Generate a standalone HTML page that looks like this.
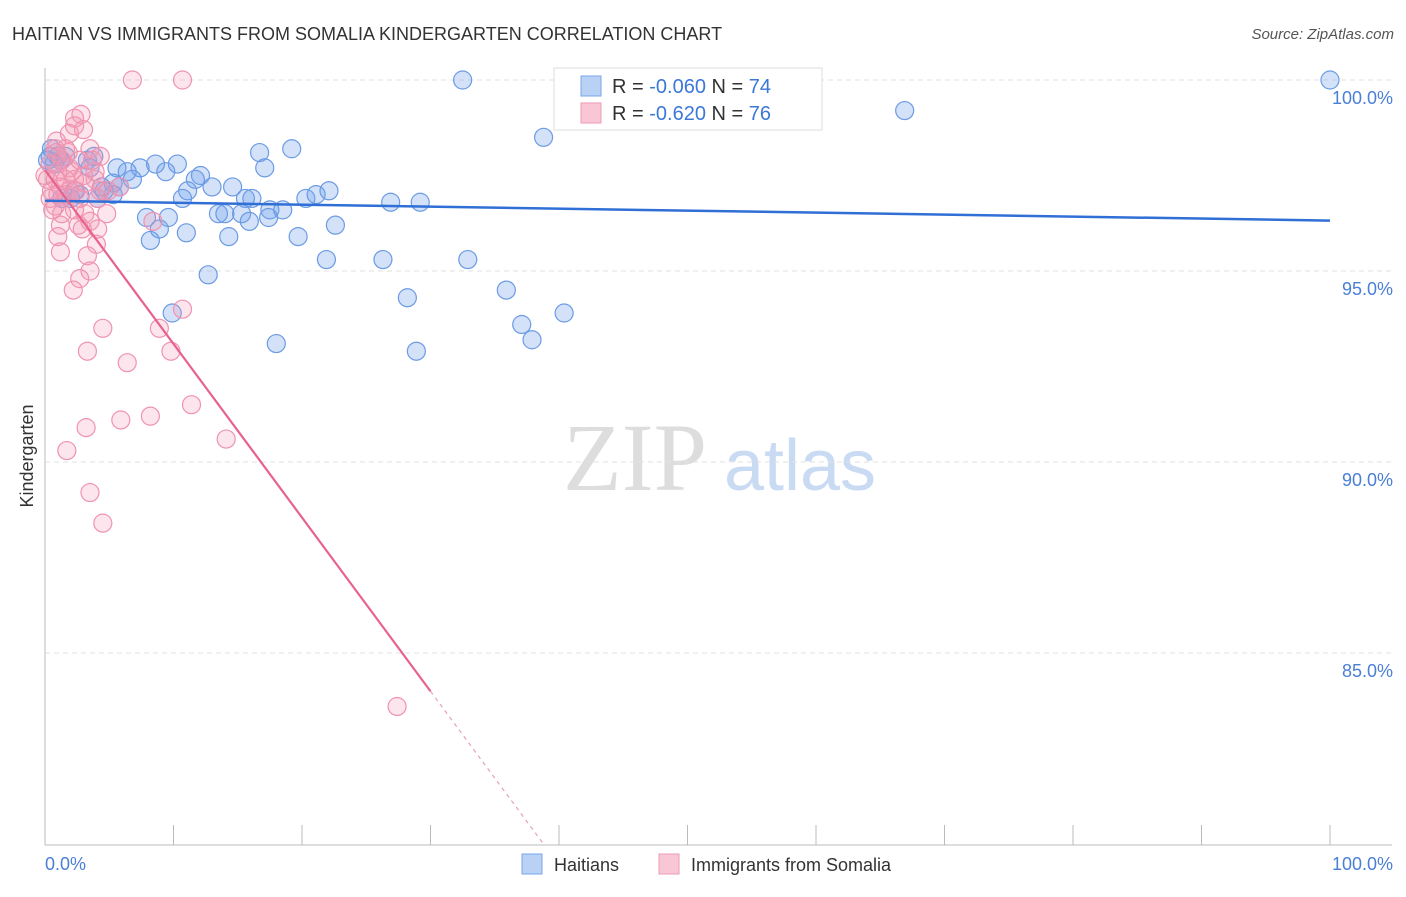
<!DOCTYPE html>
<html><head><meta charset="utf-8"><style>
body{margin:0;background:#fff;font-family:"Liberation Sans",sans-serif}
</style></head><body>
<svg width="1406" height="892" xmlns="http://www.w3.org/2000/svg">
<text x="12" y="40" font-size="18" fill="#333">HAITIAN VS IMMIGRANTS FROM SOMALIA KINDERGARTEN CORRELATION CHART</text>
<text x="1394" y="39" font-size="15" fill="#555" text-anchor="end" font-style="italic">Source: ZipAtlas.com</text>
<g>
<text x="635" y="490" font-size="96" font-family="Liberation Serif,serif" fill="#ddd" text-anchor="middle">ZIP</text>
<text x="800" y="490" font-size="72" fill="#c9daf3" text-anchor="middle">atlas</text>
</g>
<g id="grid"></g>
<g id="axes"></g>
<g id="points"></g>
<g id="trends"></g>
<text transform="translate(33,456) rotate(-90)" font-size="18" fill="#333" text-anchor="middle">Kindergarten</text>
<text x="45" y="870" font-size="18" fill="#4a7fd6">0.0%</text>
<text x="1393" y="870" font-size="18" fill="#4a7fd6" text-anchor="end">100.0%</text>
<g>
<rect x="554" y="68" width="268" height="62" fill="#fff" stroke="#ddd"/>
<rect x="581" y="76" width="20" height="20" fill="#b9d1f5" stroke="#7aa5e8"/>
<rect x="581" y="103" width="20" height="20" fill="#f9c6d5" stroke="#ee9ab3"/>
<text x="612" y="93" font-size="20" fill="#333">R = <tspan fill="#3b78d8">-0.060</tspan>   N = <tspan fill="#3b78d8">74</tspan></text>
<text x="612" y="120" font-size="20" fill="#333">R = <tspan fill="#3b78d8">-0.620</tspan>   N = <tspan fill="#3b78d8">76</tspan></text>
</g>
<g>
<rect x="522" y="854" width="20" height="20" fill="#b9d1f5" stroke="#7aa5e8"/>
<text x="554" y="871" font-size="18" fill="#333">Haitians</text>
<rect x="659" y="854" width="20" height="20" fill="#f9c6d5" stroke="#ee9ab3"/>
<text x="691" y="871" font-size="18" fill="#333">Immigrants from Somalia</text>
</g>
</svg>
<script>
const yTicks=[100,95,90,85];
const yTickLabels=["100.0%","95.0%","90.0%","85.0%"];
const xTicks=[0,10,20,30,40,50,60,70,80,90,100];
const blueX=[32.5,100,66.9,38.8,19.2,16.7,17.1,8.6,10.3,7.4,5.6,6.4,9.4,6.8,12.1,11.7,13.0,11.1,10.7,14.6,15.6,16.1,20.3,21.1,22.1,26.9,29.2,5.3,5.8,4.6,4.1,2.7,2.3,1.3,7.9,9.6,13.5,14.0,15.3,15.9,17.5,17.4,18.5,22.6,19.7,11.0,14.3,8.9,8.2,12.7,21.9,26.3,32.9,28.2,35.9,37.1,37.9,40.4,9.9,18.0,28.9,0.5,0.4,1.0,1.2,1.6,3.3,3.8,3.5,0.7,0.2,2.0,5.3,4.4];
const blueY=[100,100,99.2,98.5,98.2,98.1,97.7,97.8,97.8,97.7,97.7,97.6,97.6,97.4,97.5,97.4,97.2,97.1,96.9,97.2,96.9,96.9,96.9,97.0,97.1,96.8,96.8,97.3,97.2,97.1,96.9,97.0,97.1,96.9,96.4,96.4,96.5,96.5,96.5,96.3,96.6,96.4,96.6,96.2,95.9,96.0,95.9,96.1,95.8,94.9,95.3,95.3,95.3,94.3,94.5,93.6,93.2,93.9,93.9,93.1,92.9,98.2,98.0,98.0,97.9,98.0,97.9,98.0,97.7,97.8,97.9,96.9,97.0,97.2];
const pinkX=[6.8,10.7,2.3,2.8,2.3,3.0,1.9,0.9,0.8,1.8,3.5,4.3,1.3,0.4,1.0,0.2,0.8,2.1,2.3,3.9,3.9,3.1,1.9,1.6,2.7,4.1,4.9,0.8,1.3,3.1,4.8,1.2,2.6,2.9,4.1,1.0,4.0,1.2,3.3,3.5,2.7,2.2,10.7,8.9,4.5,3.3,6.4,9.8,11.4,8.2,5.9,3.2,14.1,1.7,3.5,4.5,27.4,8.4,5.8,1.2,0.5,1.9,2.7,3.7,0.9,1.6,0.0,0.4,0.6,2.3,3.5,1.6,2.4,3.0,1.0,4.3];
const pinkY=[100,100,99.0,99.1,98.8,98.7,98.6,98.4,98.2,98.1,98.2,98.0,97.9,97.8,97.6,97.4,97.4,97.6,97.4,97.6,97.4,97.3,97.1,97.0,96.9,96.9,97.1,96.7,96.5,96.5,96.5,96.2,96.2,96.1,96.1,95.9,95.7,95.5,95.4,95.0,94.8,94.5,94.0,93.5,93.5,92.9,92.6,92.9,91.5,91.2,91.1,90.9,90.6,90.3,89.2,88.4,83.6,96.3,97.2,97.2,97.1,97.7,97.9,97.9,98.1,98.2,97.5,96.9,96.6,96.6,96.3,97.4,97.1,97.5,97.0,97.1];
const blueTrend=[96.84,96.32];
const pinkTrend=[97.64,-0.4547];
const pinkSolidEnd=30;
const X=v=>45+v*12.85, Y=v=>80+(100-v)*38.2;
const NS="http://www.w3.org/2000/svg";
function mk(tag,attrs,parent){const e=document.createElementNS(NS,tag);for(const k in attrs)e.setAttribute(k,attrs[k]);document.getElementById(parent).appendChild(e);return e;}
yTicks.forEach((t,i)=>{
 const l=mk('line',{x1:45,x2:1392,y1:Y(t),y2:Y(t),stroke:'#e2e2e2','stroke-dasharray':'5,4'},'grid');
 
 
 const tx=mk('text',{x:1393,y:Y(t)+24,'font-size':18,fill:'#4a7fd6','text-anchor':'end'},'grid');
 tx.textContent=yTickLabels[i];
 
 
});
const ax=mk('line',{x1:45,x2:45,y1:68,y2:845,stroke:'#bbb'},'axes');


const bx=mk('line',{x1:45,x2:1392,y1:845,y2:845,stroke:'#bbb'},'axes');


xTicks.forEach(t=>{
 const l=mk('line',{x1:X(t),x2:X(t),y1:825,y2:845,stroke:'#bbb'},'axes');
 
 
});
blueX.forEach((v,i)=>{
 const c=mk('circle',{cx:X(v),cy:Y(blueY[i]),r:9,fill:'rgba(110,160,235,0.3)',stroke:'#6b9be3','stroke-width':1.2},'points');
 
 
});
pinkX.forEach((v,i)=>{
 const c=mk('circle',{cx:X(v),cy:Y(pinkY[i]),r:9,fill:'rgba(245,150,180,0.25)',stroke:'#ef93b0','stroke-width':1.2},'points');
 
 
});
const bt=mk('line',{x1:X(0),y1:Y(blueTrend[0]),x2:X(100),y2:Y(blueTrend[1]),stroke:'#2f6fd6','stroke-width':2.5},'trends');


const pf=x=>pinkTrend[0]+pinkTrend[1]*x;
const pt=mk('line',{x1:X(0),y1:Y(pf(0)),x2:X(pinkSolidEnd),y2:Y(pf(pinkSolidEnd)),stroke:'#e8628e','stroke-width':2.2},'trends');


const xEnd=(80-pinkTrend[0])/pinkTrend[1];
const pd=mk('line',{x1:X(pinkSolidEnd),y1:Y(pf(pinkSolidEnd)),x2:X(xEnd),y2:Y(80),stroke:'#e8a0b8','stroke-width':1.2,'stroke-dasharray':'4,4'},'trends');


</script>
</body></html>
